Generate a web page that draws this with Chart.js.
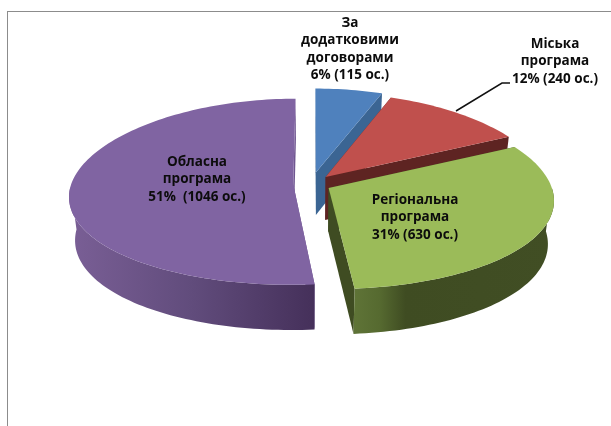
<!DOCTYPE html>
<html>
<head>
<meta charset="utf-8">
<script src="https://cdn.jsdelivr.net/npm/chart.js@4"></script>
<style>
    html, body { margin: 0; background: #fff; }
    #wrap { position: relative; width: 611px; height: 426px; overflow: hidden; }
    #frame { position: absolute; left: 7px; top: 11px; width: 700px; height: 500px;
             border-top: 1px solid #8c8c8c; border-left: 1px solid #8c8c8c; }
    canvas { position: absolute; left: 0; top: 0; }
</style>
</head>
<body>
<div id="wrap">
    <div id="frame"></div>
    <canvas id="pie" width="611" height="426"></canvas>
</div>
<script>
// Data
const categories = ['За додатковими договорами', 'Міська програма', 'Регіональна програма', 'Обласна програма'];
const people = [115, 240, 630, 1046];
const labelLines = [
    ['За', 'додатковими', 'договорами', '6% (115 ос.)'],
    ['Міська', 'програма', '12% (240 ос.)'],
    ['Регіональна', 'програма', '31% (630 ос.)'],
    ['Обласна', 'програма', '51%  (1046 ос.)']
];

// Styles
const topColors = ['#4f81bd', '#c0504d', '#9bbb59', '#8064a2'];
const faceColors = ['#3b6593', '#5e2422', '#3f4c22', '#6f5690'];
const wallStops = [
    [[0, '#3b6593'], [1, '#3b6593']],
    [[0, '#5e2422'], [1, '#5e2422']],
    [[0, '#5f7437'], [0.13, '#566a30'], [0.26, '#3f4c22'], [1, '#414e24']],
    [[0, '#7a5f96'], [0.5, '#614c7c'], [1, '#45305a']]
];
const explode = [13, 10, 9, 8];
const labelPos = [[350, 23], [555, 44], [415, 200], [197, 162]];
const drawOrder = [0, 1, 3, 2];

// 3D look: Excel's tilted pie
const view = { x: 311, y: 184, rx: 222, ry: 93, kx: 0.13, ky: 0.08, depth: 43 };

function project(u, v, z) {
    return {
        x: view.x + u * view.rx * (1 + view.kx * v) * (1 - 0.025 * z),
        y: view.y + v * view.ry * (1 + view.ky * v) + z * view.depth * (1 + 0.05 * v)
    };
}

function tracePoints(ctx, pts) {
    ctx.beginPath();
    pts.forEach((p, i) => i ? ctx.lineTo(p.x, p.y) : ctx.moveTo(p.x, p.y));
    ctx.closePath();
}

const pie3d = {
    id: 'pie3d',
    // read the slices from the library, then draw them tilted
    beforeDatasetsDraw(chart) {
        const ctx = chart.ctx;
        const arcs = chart.getDatasetMeta(0).data;
        drawOrder.forEach(i => {
            const arc = arcs[i];
            const mid = (arc.startAngle + arc.endAngle) / 2;
            const d = arc.options.offset / 100;
            const ou = Math.cos(mid) * d;
            const ov = Math.sin(mid) * d;
            const rim = (z, frontOnly) => {
                const pts = [];
                const steps = Math.ceil((arc.endAngle - arc.startAngle) * 40);
                for (let s = 0; s <= steps; s++) {
                    const a = arc.startAngle + (arc.endAngle - arc.startAngle) * s / steps;
                    if (frontOnly && Math.sin(a) < 0) continue;
                    pts.push(project(ou + Math.cos(a), ov + Math.sin(a), z));
                }
                return pts;
            };
            const top = rim(0);
            const bottom = rim(1);
            const apexTop = project(ou, ov, 0);
            const apexBottom = project(ou, ov, 1);

            // radial cut faces
            ctx.fillStyle = faceColors[i];
            tracePoints(ctx, [apexTop, top[0], bottom[0], apexBottom]);
            ctx.fill();
            tracePoints(ctx, [apexTop, top[top.length - 1], bottom[bottom.length - 1], apexBottom]);
            ctx.fill();

            // outer wall, only the part that faces the viewer
            const wallTop = rim(0, true);
            const wallBottom = rim(1, true);
            if (wallTop.length > 1) {
                const xs = wallTop.concat(wallBottom).map(p => p.x);
                const grad = ctx.createLinearGradient(Math.min(...xs), 0, Math.max(...xs), 0);
                wallStops[i].forEach(s => grad.addColorStop(s[0], s[1]));
                ctx.fillStyle = grad;
                tracePoints(ctx, wallTop.concat(wallBottom.slice().reverse()));
                ctx.fill();
            }

            // top face
            ctx.fillStyle = topColors[i];
            tracePoints(ctx, [apexTop].concat(top));
            ctx.fill();
        });
        return false;
    },
    // afterDatasetsDraw does not fire once the draw above is cancelled
    afterDraw(chart) {
        const ctx = chart.ctx;
        // leader line for the red slice
        ctx.strokeStyle = '#111';
        ctx.lineWidth = 1.5;
        ctx.beginPath();
        ctx.moveTo(456, 111);
        ctx.lineTo(502, 83);
        ctx.lineTo(510, 83);
        ctx.stroke();

        ctx.fillStyle = '#0c0c0c';
        ctx.font = 'bold 13.5px "Open Sans"';
        ctx.textAlign = 'center';
        ctx.textBaseline = 'middle';
        labelLines.forEach((lines, i) => {
            lines.forEach((line, n) => {
                ctx.fillText(line, labelPos[i][0], labelPos[i][1] + n * 17.5);
            });
        });
    }
};

new Chart(document.getElementById('pie').getContext('2d'), {
    type: 'pie',
    data: {
        labels: categories,
        datasets: [{
            data: people,
            backgroundColor: topColors,
            borderWidth: 0,
            offset: explode
        }]
    },
    options: {
        responsive: false,
        animation: false,
        plugins: {
            legend: { display: false },
            tooltip: { enabled: false }
        }
    },
    plugins: [pie3d]
});
</script>
</body>
</html>
